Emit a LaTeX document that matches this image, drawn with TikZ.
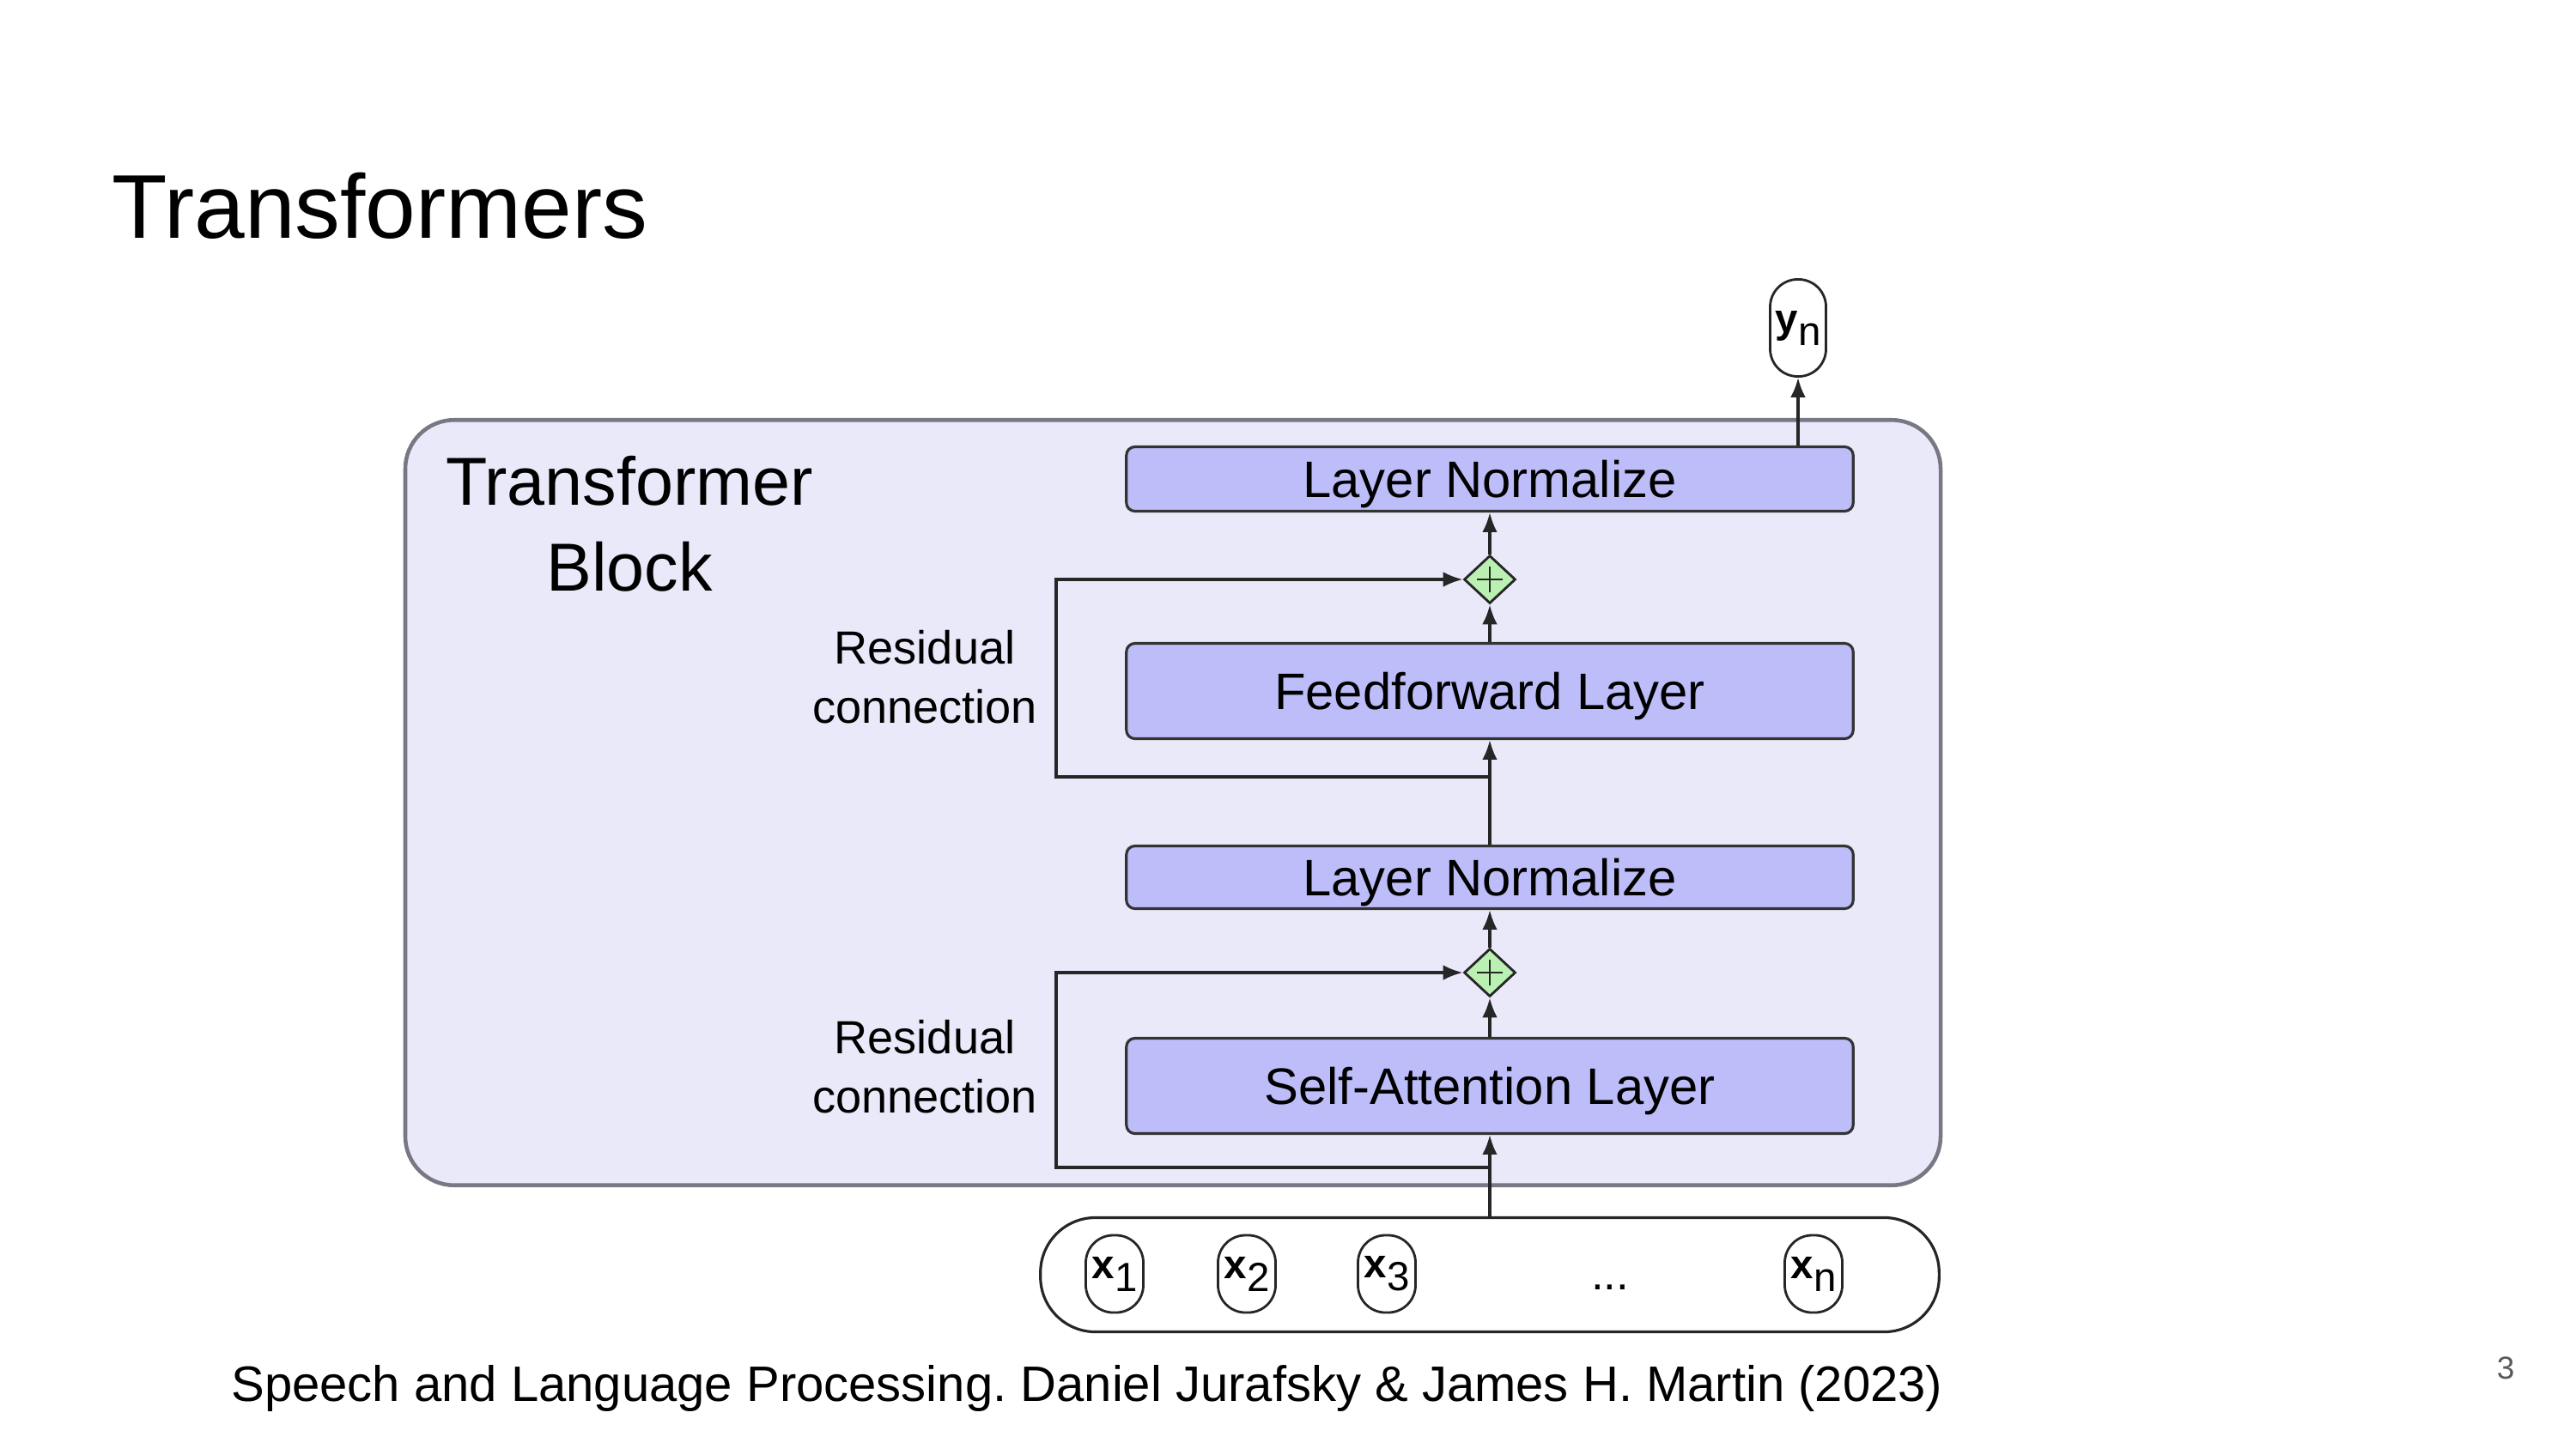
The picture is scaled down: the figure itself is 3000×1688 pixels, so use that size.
\documentclass[tikz,border=0pt]{standalone}
\usepackage{fontspec}
\setmainfont{Liberation Sans}
\usetikzlibrary{arrows.meta, positioning, shapes.geometric}
\definecolor{blockfill}{RGB}{233,233,250}
\definecolor{blockline}{RGB}{120,120,132}
\definecolor{layerfill}{RGB}{189,189,250}
\definecolor{addfill}{RGB}{186,240,178}

\begin{document}
\begin{tikzpicture}[x=0.01cm, y=-0.01cm,
  txt/.style={inner sep=0pt},
  layer/.style={draw=black!80, fill=layerfill, rounded corners=0.1cm, line width=0.9pt,
    minimum width=8.46cm, inner sep=0pt, text depth=0pt, font=\fontsize{17pt}{20pt}\selectfont},
  addnode/.style={diamond, draw=black!85, fill=addfill, line width=0.8pt,
    minimum width=0.6cm, minimum height=0.56cm, inner sep=0pt,
    path picture={\draw[line width=0.8pt]
      ([xshift=-0.15cm]path picture bounding box.center) -- ([xshift=0.15cm]path picture bounding box.center)
      ([yshift=-0.15cm]path picture bounding box.center) -- ([yshift=0.15cm]path picture bounding box.center);}},
  token/.style={draw=black!85, rounded corners=0.32cm, minimum width=0.67cm, minimum height=0.9cm,
    inner sep=0pt, line width=0.8pt, font=\fontsize{13.5pt}{15pt}\selectfont},
  arr/.style={-{Latex[length=6.5pt,width=5pt]}, line width=0.9pt, black!85}]
  \useasboundingbox (0,0) rectangle (3000,1688);

  % Title and source
  \node[txt, anchor=west, font=\fontsize{30pt}{36pt}\selectfont] (title) at (130,240) {Transformers};
  \node[txt, font=\fontsize{16.5pt}{20pt}\selectfont] (cite) at (1266,1617)
    {Speech and Language Processing.\ Daniel Jurafsky \& James H. Martin (2023)};
  \node[txt, text=black!65, font=\fontsize{10.5pt}{12pt}\selectfont] (pagenum) at (2918,1594) {3};

  % Block
  \node[draw=blockline, fill=blockfill, line width=1.3pt, rounded corners=0.57cm,
    minimum width=17.87cm, minimum height=8.91cm] (block) at (1366,935) {};
  \node[txt, align=center, font=\fontsize{22.5pt}{28.5pt}\selectfont] (blocklabel) at (733,610) {Transformer\\Block};

  % Layers
  \node[layer, minimum height=0.75cm] (ln2) at (1735,558) {Layer Normalize};
  \node[addnode] (add2) at (1735,675) {};
  \node[layer, minimum height=1.11cm] (ff) at (1735,805) {Feedforward Layer};
  \node[layer, minimum height=0.73cm] (ln1) at (1735,1022) {Layer Normalize};
  \node[addnode] (add1) at (1735,1133) {};
  \node[layer, minimum height=1.11cm] (sa) at (1735,1265) {Self-Attention Layer};

  % Residual labels
  \node[txt, align=center, font=\fontsize{15.4pt}{19.6pt}\selectfont] (reslabel2) at (1077,789) {Residual\\connection};
  \node[txt, align=center, font=\fontsize{15.4pt}{19.6pt}\selectfont] (reslabel1) at (1077,1243) {Residual\\connection};

  % Inputs and output
  \node[draw=black!85, line width=0.9pt, rounded corners=0.64cm,
    minimum width=10.46cm, minimum height=1.33cm] (inputs) at (1735,1485) {};
  \node[token] (x1) at (1298,1484) {\textbf{x}\raisebox{-0.6ex}{1}};
  \node[token] (x2) at (1452,1484) {\textbf{x}\raisebox{-0.6ex}{2}};
  \node[token] (x3) at (1615,1484) {\textbf{x}\raisebox{-0.6ex}{3}};
  \node[txt, font=\fontsize{15pt}{18pt}\selectfont] (dots) at (1875,1500) {...};
  \node[token] (xn) at (2112,1484) {\textbf{x}\raisebox{-0.6ex}{n}};
  \node[token, minimum width=0.65cm, minimum height=1.13cm] (yn) at (2094,382) {\textbf{y}\raisebox{-0.6ex}{n}};

  % Connections
  \coordinate (split2) at (1735,905);
  \coordinate (res2) at (1230,675);
  \coordinate (split1) at (1735,1360);
  \coordinate (res1) at (1230,1133);

  \draw[arr] (inputs) -- (sa);
  \draw[arr] (sa) -- (add1);
  \draw[arr] (add1) -- (ln1);
  \draw[arr] (ln1) -- (ff);
  \draw[arr] (ff) -- (add2);
  \draw[arr] (add2) -- (ln2);
  \draw[arr] (ln2.north -| yn) -- (yn);
  \draw[arr] (split1) -| (res1) -- (add1);
  \draw[arr] (split2) -| (res2) -- (add2);
\end{tikzpicture}
\end{document}
